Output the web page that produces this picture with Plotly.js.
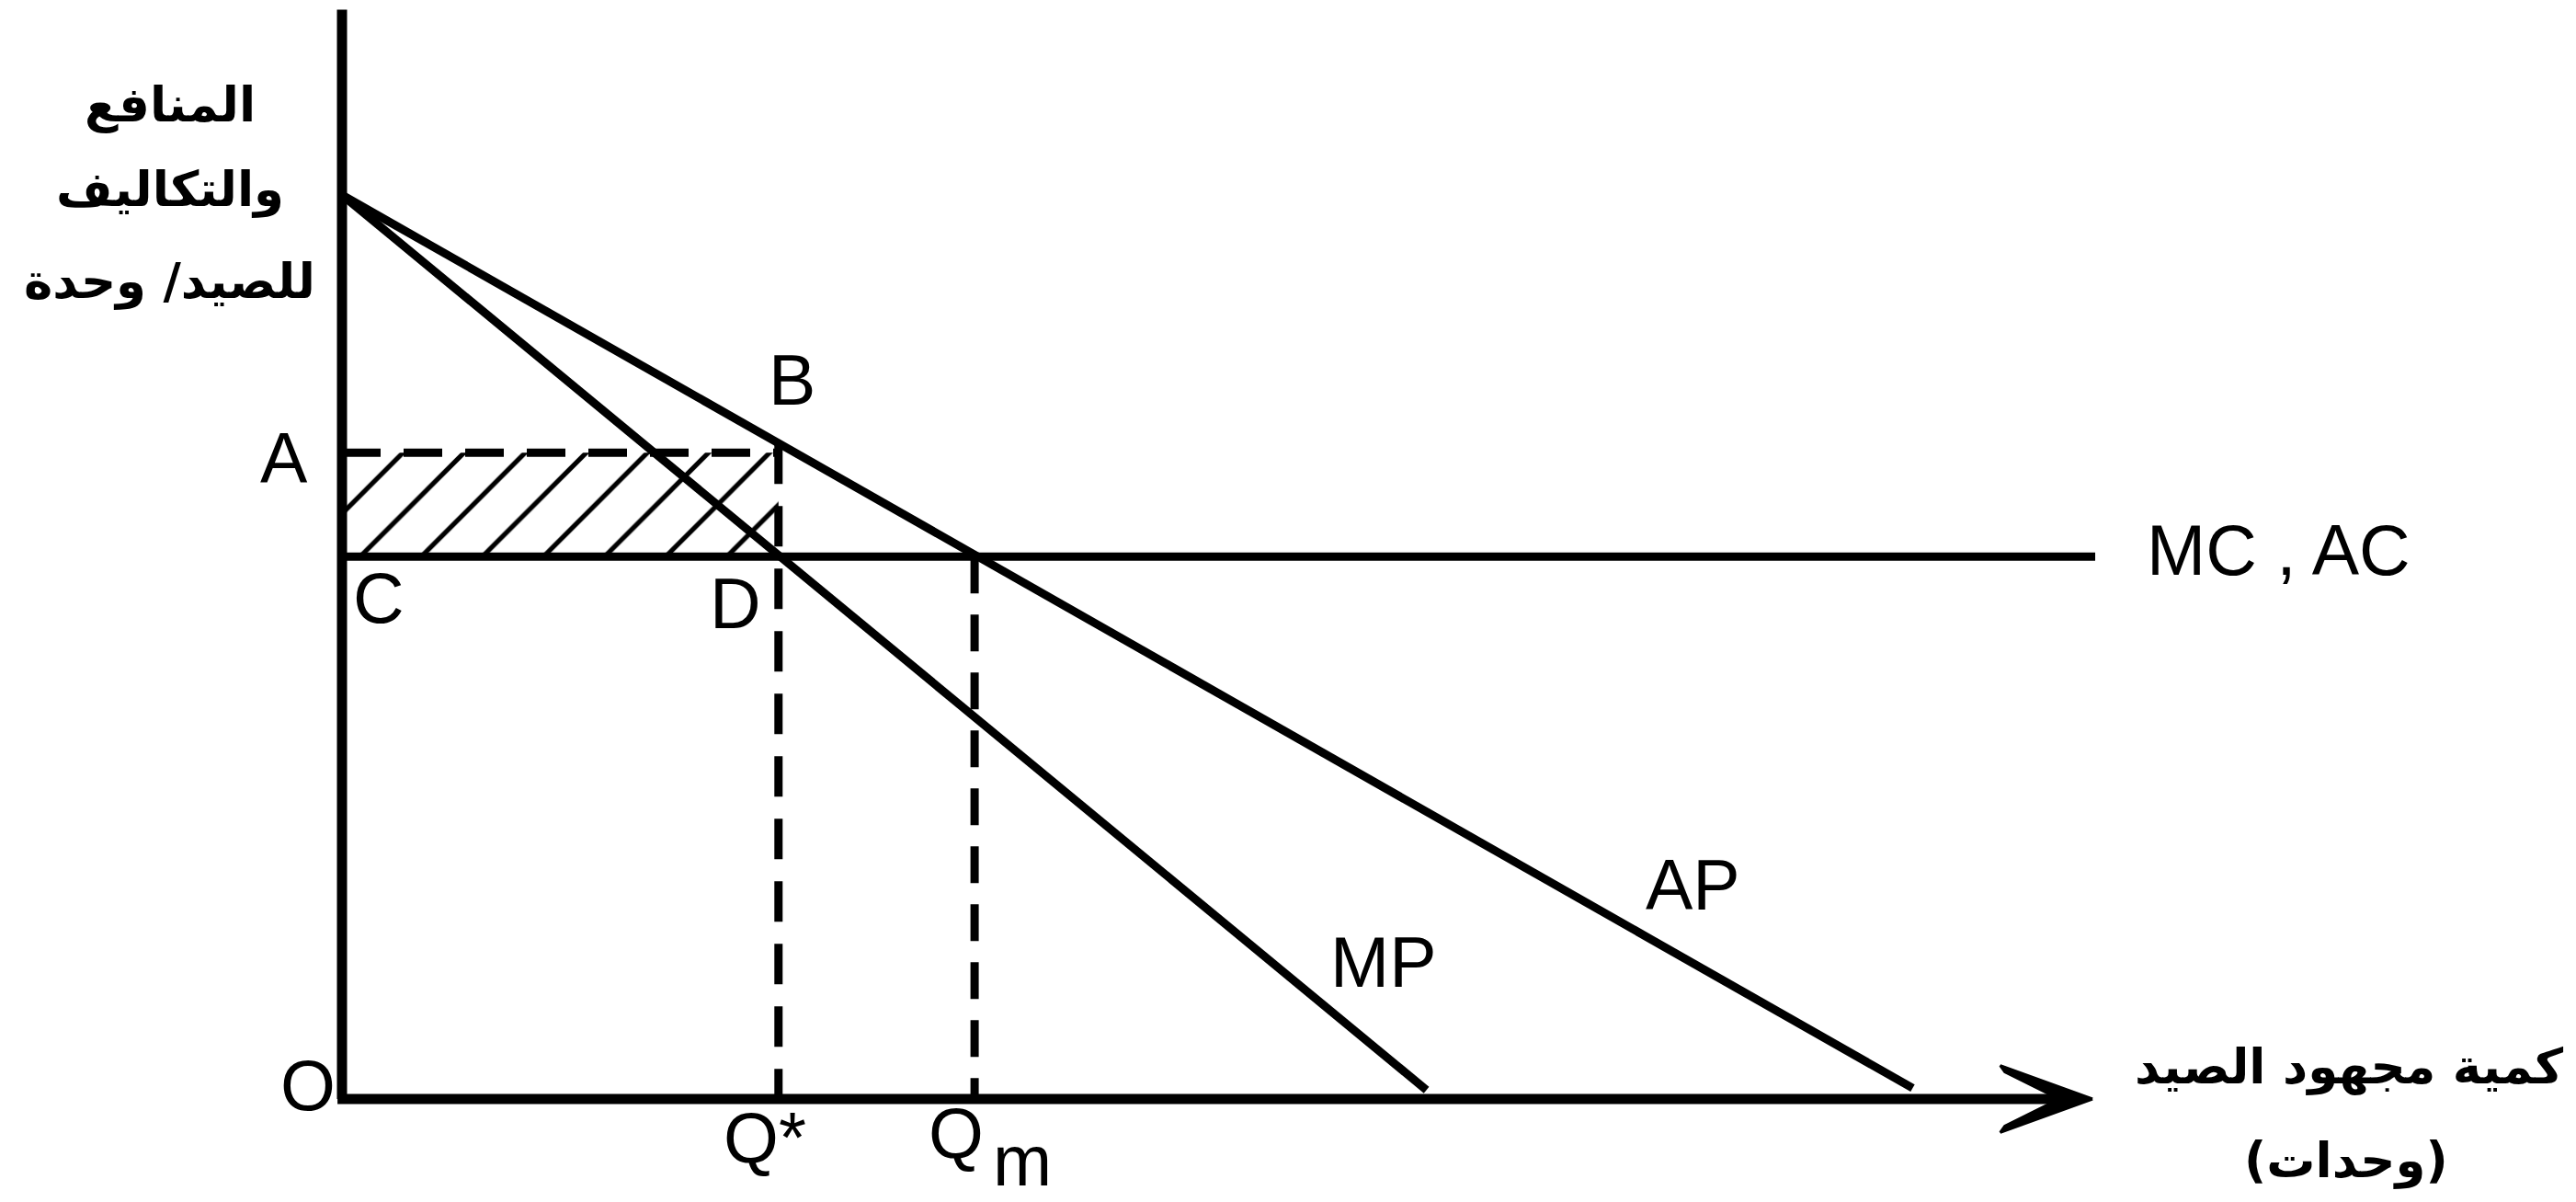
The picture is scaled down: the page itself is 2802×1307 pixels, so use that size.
<!DOCTYPE html>
<html>
<head>
<meta charset="utf-8">
<script src="https://cdn.plot.ly/plotly-3.0.1.min.js"></script>
<style>
  html, body { margin: 0; padding: 0; background: #ffffff; }
  #chart { width: 2802px; height: 1307px; }
</style>
</head>
<body>
<div id="chart"></div>
<script>
// ---- Data (in diagram units) ----
const yAxisTop = 12.05;          // top of vertical axis
const xAxisEnd = 19.2;           // end of horizontal axis shaft
const arrowTipX = 19.37;         // tip of the x-axis arrow

const apX = [0, 17.38];          // average product (AP)
const apY = [10, 0.12];
const mpX = [0, 12.0];           // marginal product (MP)
const mpY = [10, 0.10];
const mcX = [0, 19.40];          // MC , AC (constant)
const mcY = [6, 6];

const qStar = 4.83;              // Q*
const qM = 7.0;                  // Qm
const levelA = 7.15;             // A
const levelB = 7.25;             // B (AP at Q*)
const levelC = 6;                // C / MC level

// ---- Pixel framing (layout only) ----
const W = 2802, H = 1307;
const originPx = 372, originPy = 1195, unit = 98.3;
const xRange = [-originPx / unit, (W - originPx) / unit];
const yRange = [(originPy - H) / unit, originPy / unit];
const px = v => v / W;
const py = v => 1 - v / H;

const black = '#000000';

const traces = [
  // hatched rectangle A-B-D-C
  {
    x: [0, qStar, qStar, 0, 0],
    y: [levelC, levelC, levelA, levelA, levelC],
    mode: 'none', fill: 'toself', fillcolor: 'rgba(255,255,255,0)',
    fillpattern: { shape: '/', size: 47, solidity: 0.11, fgcolor: black, fgopacity: 1 },
    hoverinfo: 'skip', showlegend: false
  },
  // A dashed horizontal
  { x: [0, qStar], y: [levelA, levelA], mode: 'lines',
    line: { color: black, width: 9, dash: '42px,25px' }, showlegend: false },
  // Q* dashed vertical
  { x: [qStar, qStar], y: [levelB, 0], mode: 'lines',
    line: { color: black, width: 9, dash: '44px,24px' }, showlegend: false },
  // Qm dashed vertical
  { x: [qM, qM], y: [levelC, 0], mode: 'lines',
    line: { color: black, width: 9, dash: '40px,23px' }, showlegend: false },
  // MC , AC
  { x: mcX, y: mcY, mode: 'lines', line: { color: black, width: 9 }, showlegend: false },
  // AP
  { x: apX, y: apY, mode: 'lines', line: { color: black, width: 9 }, showlegend: false },
  // MP
  { x: mpX, y: mpY, mode: 'lines', line: { color: black, width: 9 }, showlegend: false },
  // y axis
  { x: [0, 0], y: [0, yAxisTop], mode: 'lines', line: { color: black, width: 11 }, showlegend: false },
  // x axis
  { x: [-0.05, xAxisEnd], y: [0, 0], mode: 'lines', line: { color: black, width: 11 }, showlegend: false },
  // arrow head
  {
    x: [arrowTipX, 18.35, 18.40, 19.0, 18.40, 18.35, arrowTipX],
    y: [0, 0.37, 0.30, 0, -0.30, -0.37, 0],
    mode: 'lines', fill: 'toself', fillcolor: black,
    line: { color: black, width: 3 }, showlegend: false
  }
];

const latin = { family: 'Liberation Sans, Arial, sans-serif', size: 77, color: black };
const arabic = { family: 'DejaVu Sans, sans-serif', size: 53, color: black, weight: 'bold' };

function ann(text, x, y, font, xanchor) {
  return { text: text, x: px(x), y: py(y), xref: 'paper', yref: 'paper',
           xanchor: xanchor || 'center', yanchor: 'middle', showarrow: false, font: font };
}

const annotations = [
  ann('المنافع', 185, 114, arabic),
  ann('والتكاليف', 185, 206, arabic),
  ann('للصيد/ وحدة', 185, 306, arabic),
  ann('كمية مجهود الصيد', 2555, 1160, arabic),
  ann('(وحدات)', 2552, 1262, arabic),
  ann('A', 309, 498, latin),
  ann('B', 861, 413, latin),
  ann('C', 412, 650, latin),
  ann('D', 800, 656, latin),
  ann('MC , AC', 2478, 598, latin),
  ann('MP', 1505, 1046, latin),
  ann('AP', 1841, 962, latin),
  ann('O', 335, 1180, latin),
  ann('Q*', 832, 1237, latin),
  ann('Q', 1040, 1232, latin),
  ann('m', 1112, 1262, latin)
];

const layout = {
  width: W, height: H,
  margin: { l: 0, r: 0, t: 0, b: 0, pad: 0 },
  paper_bgcolor: '#ffffff', plot_bgcolor: '#ffffff',
  showlegend: false,
  xaxis: { visible: false, range: xRange, fixedrange: true },
  yaxis: { visible: false, range: yRange, fixedrange: true },
  annotations: annotations
};

Plotly.newPlot('chart', traces, layout, { displayModeBar: false, staticPlot: true });
</script>
</body>
</html>
